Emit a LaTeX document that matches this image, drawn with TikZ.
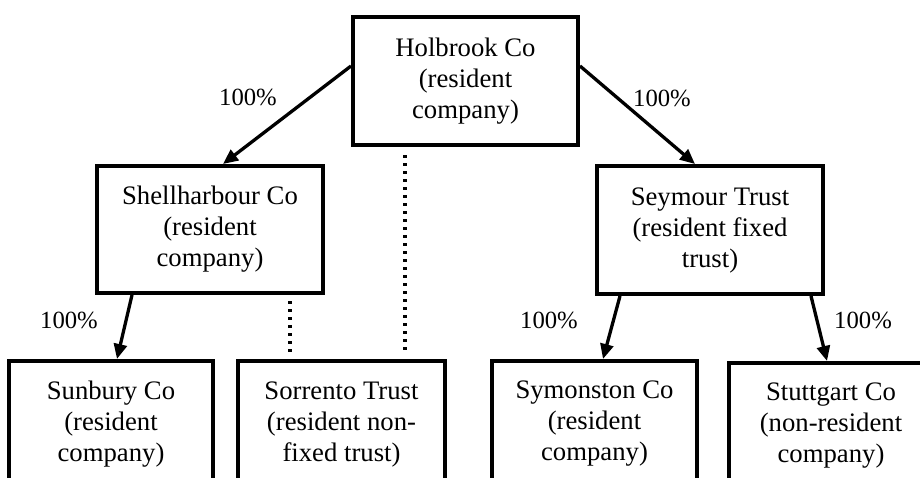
\documentclass[tikz,border=0pt]{standalone}
\usepackage{fontspec}
\setmainfont{Liberation Serif}
\usetikzlibrary{arrows.meta,calc}
\begin{document}
\begin{tikzpicture}[x=1pt,y=-1pt,
  box/.style={draw,line width=4pt,rectangle,align=center,inner sep=0pt,
    font=\fontsize{26.7}{31}\selectfont},
  arr/.style={line width=3.3pt,-{Triangle[length=15pt,width=13pt]}},
  dot/.style={line width=3.3pt,dash pattern=on 3.3pt off 4.7pt},
  pct/.style={font=\fontsize{24.7}{28}\selectfont,inner sep=0pt}]
\clip (0,0) rectangle (920,477);
\fill[white] (0,0) rectangle (920,477);
\node[box,minimum width=225pt,minimum height=128pt] (hol) at (465.5,81) {Holbrook Co\\(resident\\company)};
\node[box,minimum width=226pt,minimum height=127pt] (shell) at (210,229.5) {Shellharbour Co\\(resident\\company)};
\node[box,minimum width=226pt,minimum height=128pt] (sey) at (710,230) {Seymour Trust\\(resident fixed\\trust)};
\node[box,minimum width=204pt,minimum height=126pt] (sun) at (111,424) {Sunbury Co\\(resident\\company)};
\node[box,minimum width=207pt,minimum height=126pt] (sor) at (341.5,424) {Sorrento Trust\\(resident non-\\fixed trust)};
\node[box,minimum width=205pt,minimum height=126pt] (sym) at (594.5,424) {Symonston Co\\(resident\\company)};
\node[box,minimum width=204pt,minimum height=126pt] (stu) at (831,426) {Stuttgart Co\\(non-resident\\company)};
\draw[arr] ([yshift=15pt]hol.west) -- ([xshift=13pt]shell.north);
\draw[arr] ([yshift=15pt]hol.east) -- ([xshift=-15pt]sey.north);
\draw[arr] ([xshift=-78pt]shell.south) -- ([xshift=6pt]sun.north);
\draw[arr] ([xshift=-90pt]sey.south) -- ([xshift=8.5pt]sym.north);
\draw[arr] ([xshift=101pt]sey.south) -- ([xshift=-4pt]stu.north);
\draw[dot,shorten <=6pt,shorten >=3pt] ([xshift=80pt]shell.south) -- ([xshift=-51.5pt]sor.north);
\draw[dot,shorten <=8pt,shorten >=5pt] ([xshift=-60.5pt]hol.south) -- ([xshift=63.5pt]sor.north);
\node[pct] (p1) at (248,97) {100\%};
\node[pct] (p2) at (662,98) {100\%};
\node[pct] (p3) at (69,320) {100\%};
\node[pct] (p4) at (549,320) {100\%};
\node[pct] (p5) at (863,320) {100\%};
\end{tikzpicture}
\end{document}
